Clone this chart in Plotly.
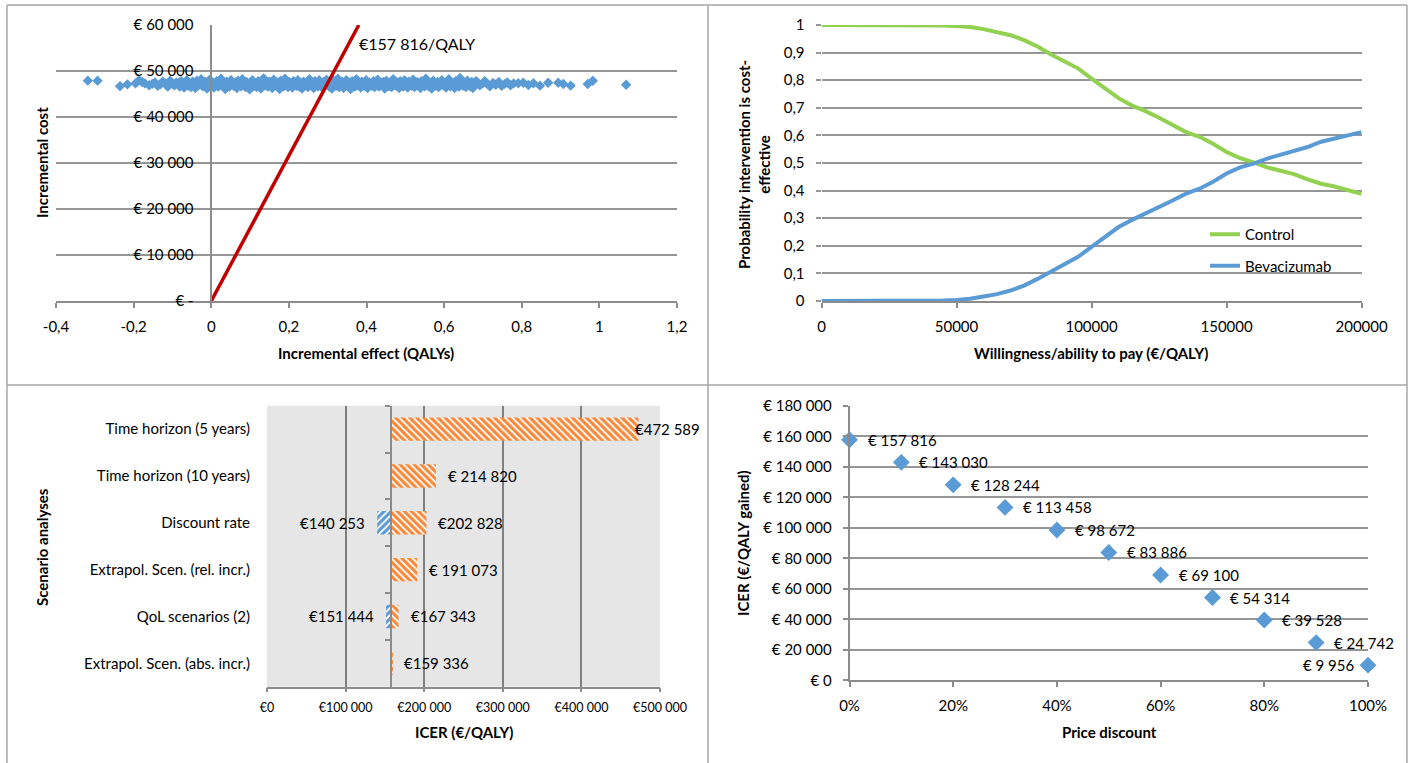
import plotly.graph_objects as go

W, H = 1414, 763
FONT = "Lato"
GRID = "#969696"
AXIS = "#8c8c8c"
BLUE = "#5B9BD5"
GREEN = "#92D050"
ORANGE = "#F7893B"
RED = "#C00000"

# ---------------- data ----------------
ICER_BASE = 157816

PSA_EFFECT_LEFT = [-0.318, -0.293, -0.235, -0.216, -0.195, -0.186, -0.178, -0.171, -0.160, -0.152,
                   -0.145, -0.138, -0.131, -0.125, -0.118, -0.112, -0.106, -0.100, -0.095, -0.090]
PSA_COST_LEFT = [47900, 47900, 46700, 47100, 47300, 48000, 47600, 47300, 46900, 47200,
                 47500, 46800, 47100, 47700, 47300, 46600, 47900, 47200, 46900, 47500]

PSA_EFFECT_MID = [
    -0.085, -0.081, -0.078, -0.074, -0.070, -0.066, -0.063, -0.059, -0.055, -0.052,
    -0.048, -0.044, -0.041, -0.037, -0.033, -0.030, -0.026, -0.022, -0.019, -0.015,
    -0.011, -0.008, -0.004, 0.000, 0.003, 0.007, 0.011, 0.014, 0.018, 0.022,
    0.025, 0.029, 0.033, 0.036, 0.040, 0.044, 0.047, 0.051, 0.055, 0.058,
    0.062, 0.066, 0.069, 0.073, 0.077, 0.080, 0.084, 0.088, 0.091, 0.095,
    0.099, 0.102, 0.106, 0.110, 0.113, 0.117, 0.121, 0.124, 0.128, 0.132,
    0.135, 0.139, 0.143, 0.146, 0.150, 0.154, 0.157, 0.161, 0.165, 0.168,
    0.172, 0.176, 0.179, 0.183, 0.187, 0.190, 0.194, 0.198, 0.201, 0.205,
    0.209, 0.212, 0.216, 0.220, 0.223, 0.227, 0.231, 0.234, 0.238, 0.242,
    0.245, 0.249, 0.253, 0.256, 0.260, 0.264, 0.267, 0.271, 0.275, 0.278,
    0.282, 0.286, 0.289, 0.293, 0.297, 0.300, 0.304, 0.308, 0.311, 0.315,
    0.319, 0.322, 0.326, 0.330, 0.333, 0.337, 0.341, 0.344, 0.348, 0.352,
    0.355, 0.359, 0.363, 0.366, 0.370, 0.374, 0.377, 0.381, 0.385, 0.388,
    0.392, 0.396, 0.399, 0.403, 0.407, 0.410, 0.414, 0.418, 0.421, 0.425,
    0.429, 0.432, 0.436, 0.440, 0.443, 0.447, 0.451, 0.454, 0.458, 0.462,
    0.465, 0.469, 0.473, 0.476, 0.480, 0.484, 0.487, 0.491, 0.495, 0.498,
    0.502, 0.506, 0.509, 0.513, 0.517, 0.520, 0.524, 0.528, 0.531, 0.535,
    0.539, 0.542, 0.546, 0.550, 0.553, 0.557, 0.561, 0.564, 0.568, 0.572,
    0.575, 0.579, 0.583, 0.586, 0.590, 0.594, 0.597, 0.601, 0.605, 0.608,
    0.612, 0.616, 0.619, 0.623, 0.627, 0.630, 0.634, 0.638, 0.641, 0.645,
    0.649, 0.652, 0.656, 0.660, 0.663, 0.667, 0.671, 0.674, 0.678, 0.682,
]
PSA_COST_MID = [
    47300, 46600, 47800, 47000, 46400, 47500, 48000, 46800, 47200, 46500,
    47700, 47100, 46300, 47900, 46900, 47400, 48200, 46700, 47000, 47600,
    46200, 47300, 48100, 46800, 47500, 46400, 47000, 47800, 46600, 47200,
    48300, 46900, 47400, 46100, 47700, 47100, 46600, 48000, 47300, 46800,
    47500, 46300, 47900, 47000, 46700, 48200, 47200, 46500, 47600, 47000,
    46000, 47400, 48000, 46800, 47300, 46500, 47800, 47100, 46200, 47600,
    48400, 46900, 47200, 46600, 47700, 47000, 46300, 48100, 47400, 46800,
    47500, 46100, 47900, 47200, 46700, 48300, 47000, 46500, 47600, 47300,
    46400, 47800, 47100, 46800, 48000, 46600, 47400, 46200, 47700, 47000,
    47300, 46500, 48200, 46900, 47500, 46300, 47800, 47100, 46700, 48000,
    47200, 46400, 47600, 46900, 48100, 47000, 46600, 47400, 46200, 47900,
    47100, 46800, 48300, 46500, 47300, 47700, 46300, 47000, 48000, 46700,
    47500, 46100, 47800, 47200, 46600, 48200, 46900, 47400, 46400, 47700,
    47000, 46700, 48000, 46300, 47500, 47100, 46800, 47800, 46500, 47300,
    48100, 46600, 47200, 46900, 47600, 46200, 47900, 47000, 46700, 47400,
    46500, 48200, 47100, 46800, 47500, 46300, 47800, 47200, 46600, 48000,
    47000, 46400, 47700, 47300, 46800, 48100, 46500, 47200, 47600, 46900,
    46300, 47800, 47100, 46700, 48300, 47000, 46600, 47400, 46200, 47900,
    47300, 46800, 47600, 46500, 47100, 48000, 46900, 47400, 46400, 47700,
    48200, 46700, 47200, 47000, 46300, 47800, 47500, 46600, 48500, 47100,
    46800, 47400, 46500, 47900, 47200, 46700, 47600, 46300, 47100, 47800,
]

PSA_EFFECT_RIGHT = [0.686, 0.692, 0.699, 0.705, 0.712, 0.718, 0.726, 0.733, 0.741, 0.748,
                    0.756, 0.763, 0.771, 0.779, 0.791, 0.804, 0.817, 0.830, 0.847, 0.868,
                    0.894, 0.907, 0.926, 0.970, 0.983, 1.069]
PSA_COST_RIGHT = [47500, 46900, 47300, 47800, 47100, 46700, 47400, 47000, 47600, 46800,
                  47200, 47500, 46900, 47300, 47330, 47460, 46960, 47330, 46810, 47460,
                  47460, 47170, 46810, 47170, 47890, 47020]

CE_X_TICKS = [-0.4, -0.2, 0, 0.2, 0.4, 0.6, 0.8, 1.0, 1.2]
CE_X_LABELS = ["-0,4", "-0,2", "0", "0,2", "0,4", "0,6", "0,8", "1", "1,2"]
CE_Y_TICKS = [0, 10000, 20000, 30000, 40000, 50000, 60000]
CE_Y_LABELS = ["€ -", "€ 10 000", "€ 20 000", "€ 30 000", "€ 40 000", "€ 50 000", "€ 60 000"]
ICER_LINE_LABEL = "€157 816/QALY"

WTP = [0, 5000, 10000, 15000, 20000, 25000, 30000, 35000, 40000, 45000,
       50000, 55000, 60000, 65000, 70000, 75000, 80000, 85000, 90000, 95000,
       100000, 105000, 110000, 115000, 120000, 125000, 130000, 135000, 140000, 145000,
       150000, 155000, 160000, 165000, 170000, 175000, 180000, 185000, 190000, 195000, 200000]
P_CONTROL = [1.000, 1.000, 1.000, 1.000, 1.000, 1.000, 1.000, 0.999, 0.999, 0.998,
             0.996, 0.993, 0.985, 0.975, 0.963, 0.945, 0.922, 0.893, 0.866, 0.843,
             0.806, 0.770, 0.735, 0.708, 0.688, 0.664, 0.637, 0.612, 0.595, 0.570,
             0.540, 0.518, 0.502, 0.484, 0.472, 0.460, 0.441, 0.425, 0.415, 0.402, 0.388]
P_BEVA = [0.000, 0.000, 0.000, 0.000, 0.000, 0.000, 0.000, 0.001, 0.001, 0.002,
          0.004, 0.008, 0.016, 0.025, 0.038, 0.056, 0.080, 0.108, 0.135, 0.160,
          0.196, 0.232, 0.268, 0.294, 0.316, 0.338, 0.364, 0.389, 0.407, 0.432,
          0.462, 0.484, 0.498, 0.516, 0.530, 0.542, 0.558, 0.577, 0.588, 0.600, 0.612]
WTP_TICKS = [0, 50000, 100000, 150000, 200000]
WTP_LABELS = ["0", "50000", "100000", "150000", "200000"]
PROB_TICKS = [0, 0.1, 0.2, 0.3, 0.4, 0.5, 0.6, 0.7, 0.8, 0.9, 1.0]
PROB_LABELS = ["0", "0,1", "0,2", "0,3", "0,4", "0,5", "0,6", "0,7", "0,8", "0,9", "1"]

SCENARIOS = ["Time horizon (5 years)", "Time horizon (10 years)", "Discount rate",
             "Extrapol. Scen. (rel. incr.)", "QoL scenarios (2)", "Extrapol. Scen. (abs. incr.)"]
SCEN_HIGH = [472589, 214820, 202828, 191073, 167343, 159336]
SCEN_HIGH_LABELS = ["€472 589", "€ 214 820", "€202 828", "€ 191 073", "€167 343", "€159 336"]
SCEN_LOW = [None, None, 140253, None, 151444, None]
SCEN_LOW_LABELS = [None, None, "€140 253", None, "€151 444", None]
ICER_TICKS = [0, 100000, 200000, 300000, 400000, 500000]
ICER_LABELS = ["€0", "€100 000", "€200 000", "€300 000", "€400 000", "€500 000"]

DISCOUNT = [0.0, 0.1, 0.2, 0.3, 0.4, 0.5, 0.6, 0.7, 0.8, 0.9, 1.0]
DISCOUNT_ICER = [157816, 143030, 128244, 113458, 98672, 83886, 69100, 54314, 39528, 24742, 9956]
DISC_TICKS = [0, 0.2, 0.4, 0.6, 0.8, 1.0]
DISC_LABELS = ["0%", "20%", "40%", "60%", "80%", "100%"]
DICER_TICKS = [0, 20000, 40000, 60000, 80000, 100000, 120000, 140000, 160000, 180000]
DICER_LABELS = ["€ 0", "€ 20 000", "€ 40 000", "€ 60 000", "€ 80 000", "€ 100 000",
                "€ 120 000", "€ 140 000", "€ 160 000", "€ 180 000"]

# ---------------- helpers ----------------
def dx(a, b):
    return [a / W, b / W]


def dy(top, bottom):
    return [1 - bottom / H, 1 - top / H]


def euro(v):
    return "€ " + f"{v:,}".replace(",", " ")


TICKFONT = dict(family=FONT, size=15, color="black")

fig = go.Figure()

# ---- panel 1: CE plane ----
psa_x = PSA_EFFECT_LEFT + PSA_EFFECT_MID + PSA_EFFECT_RIGHT
psa_y = PSA_COST_LEFT + PSA_COST_MID + PSA_COST_RIGHT
fig.add_trace(go.Scatter(x=psa_x, y=psa_y, mode="markers", xaxis="x", yaxis="y",
                         marker=dict(symbol="diamond", size=8, color=BLUE, line=dict(width=0)),
                         showlegend=False, hoverinfo="skip"))
ymax = CE_Y_TICKS[-1]
fig.add_trace(go.Scatter(x=[0, ymax / ICER_BASE], y=[0, ymax], mode="lines", xaxis="x", yaxis="y",
                         line=dict(color=RED, width=3.5), showlegend=False, hoverinfo="skip"))

# ---- panel 2: CEAC ----
fig.add_trace(go.Scatter(x=WTP, y=P_CONTROL, mode="lines", name="Control", xaxis="x2", yaxis="y2",
                         line=dict(color=GREEN, width=4), legendgroup="a"))
fig.add_trace(go.Scatter(x=WTP, y=P_BEVA, mode="lines", name="Bevacizumab", xaxis="x2", yaxis="y2",
                         line=dict(color=BLUE, width=4), legendgroup="b"))

# ---- panel 3: tornado ----
fig.add_trace(go.Bar(y=SCENARIOS, x=[v - ICER_BASE for v in SCEN_HIGH], base=ICER_BASE,
                     orientation="h", xaxis="x3", yaxis="y3", width=0.5,
                     marker=dict(color=ORANGE, line=dict(width=0),
                                 pattern=dict(shape="\\", fillmode="replace", bgcolor=ORANGE,
                                              fgcolor="white", size=5, solidity=0.35)),
                     showlegend=False, hoverinfo="skip"))
low_y = [s for s, v in zip(SCENARIOS, SCEN_LOW) if v is not None]
low_x = [v - ICER_BASE for v in SCEN_LOW if v is not None]
fig.add_trace(go.Bar(y=low_y, x=low_x, base=ICER_BASE,
                     orientation="h", xaxis="x3", yaxis="y3", width=0.5,
                     marker=dict(color=BLUE, line=dict(width=0),
                                 pattern=dict(shape="/", fillmode="replace", bgcolor=BLUE,
                                              fgcolor="white", size=5, solidity=0.35)),
                     showlegend=False, hoverinfo="skip"))
fig.add_trace(go.Scatter(y=SCENARIOS, x=[ICER_BASE] * len(SCENARIOS), mode="markers",
                         xaxis="x3", yaxis="y5", marker=dict(opacity=0),
                         showlegend=False, hoverinfo="skip"))

# ---- panel 4: price discount ----
fig.add_trace(go.Scatter(x=DISCOUNT, y=DISCOUNT_ICER, mode="markers", xaxis="x4", yaxis="y4",
                         marker=dict(symbol="diamond", size=13, color=BLUE),
                         cliponaxis=False, showlegend=False, hoverinfo="skip"))

# ---------------- axes ----------------
x1d = dx(56, 677)
y_pos = x1d[0] + (0 - CE_X_TICKS[0]) / (CE_X_TICKS[-1] - CE_X_TICKS[0]) * (x1d[1] - x1d[0])
x3d = dx(267, 660)
base_pos = x3d[0] + ICER_BASE / ICER_TICKS[-1] * (x3d[1] - x3d[0])

common_x = dict(showgrid=False, zeroline=False, showline=True, linecolor=AXIS, linewidth=1.5,
                ticks="outside", ticklen=5, tickcolor=AXIS, tickwidth=1.5, tickfont=TICKFONT,
                ticklabelstandoff=6, automargin=False)

fig.update_layout(
    template="none",
    width=W, height=H, margin=dict(l=0, r=0, t=0, b=0, pad=0),
    paper_bgcolor="white", plot_bgcolor="rgba(0,0,0,0)",
    font=dict(family=FONT, color="black"),
    barmode="overlay",
    xaxis=dict(domain=x1d, anchor="y", range=[CE_X_TICKS[0], CE_X_TICKS[-1]],
               tickvals=CE_X_TICKS, ticktext=CE_X_LABELS, **common_x),
    yaxis=dict(domain=dy(25, 301), anchor="free", position=y_pos,
               range=[CE_Y_TICKS[0], CE_Y_TICKS[-1]], tickvals=CE_Y_TICKS, ticktext=CE_Y_LABELS,
               showgrid=True, gridcolor=GRID, gridwidth=1.5, zeroline=False,
               showline=True, linecolor=AXIS, linewidth=1.5, ticks="",
               tickfont=TICKFONT, ticklabelstandoff=14, automargin=False),
    xaxis2=dict(domain=dx(821.5, 1361.6), anchor="y2", range=[WTP_TICKS[0], WTP_TICKS[-1]],
                tickvals=WTP_TICKS, ticktext=WTP_LABELS, **common_x),
    yaxis2=dict(domain=dy(25, 301), anchor="x2", range=[0, 1],
                tickvals=PROB_TICKS, ticktext=PROB_LABELS,
                showgrid=True, gridcolor=GRID, gridwidth=1.5, zeroline=False, showline=False,
                ticks="outside", ticklen=5, tickcolor=GRID, tickwidth=1.5,
                tickfont=TICKFONT, ticklabelstandoff=8, automargin=False),
    xaxis3=dict(domain=x3d, anchor="y3", range=[ICER_TICKS[0], ICER_TICKS[-1]],
                tickvals=ICER_TICKS, ticktext=ICER_LABELS,
                showgrid=True, gridcolor="#7f7f7f", gridwidth=1.5, zeroline=False,
                showline=True, linecolor=AXIS, linewidth=1.5,
                ticks="outside", ticklen=4, tickcolor=AXIS, tickwidth=1.5,
                tickfont=dict(family=FONT, size=12.5, color="black"), ticklabelstandoff=5,
                automargin=False),
    yaxis3=dict(domain=dy(405.7, 686.7), anchor="x3", type="category",
                categoryorder="array", categoryarray=SCENARIOS,
                range=[len(SCENARIOS) - 0.5, -0.5], showgrid=False, zeroline=False,
                showline=False, ticks="", tickfont=TICKFONT, ticklabelstandoff=16,
                automargin=False),
    yaxis5=dict(domain=dy(405.7, 686.7), overlaying="y3", anchor="free", position=base_pos,
                type="category", categoryorder="array", categoryarray=SCENARIOS,
                range=[len(SCENARIOS) - 0.5, -0.5], showgrid=False, zeroline=False,
                showline=True, linecolor=AXIS, linewidth=1.5, ticks="outside", ticklen=5,
                tickcolor=AXIS, tickwidth=1.5, tickson="boundaries", showticklabels=False,
                automargin=False),
    xaxis4=dict(domain=dx(849.5, 1368), anchor="y4", range=[DISC_TICKS[0], DISC_TICKS[-1]],
                tickvals=DISC_TICKS, ticktext=DISC_LABELS, **common_x),
    yaxis4=dict(domain=dy(406, 680.3), anchor="x4", range=[DICER_TICKS[0], DICER_TICKS[-1]],
                tickvals=DICER_TICKS, ticktext=DICER_LABELS,
                showgrid=True, gridcolor=GRID, gridwidth=1.5, zeroline=False,
                showline=True, linecolor=AXIS, linewidth=1.5,
                ticks="outside", ticklen=5, tickcolor=AXIS, tickwidth=1.5,
                tickfont=TICKFONT, ticklabelstandoff=8, automargin=False),
    legend=dict(x=1205 / W, y=1 - 218 / H, xanchor="left", yanchor="top",
                bgcolor="rgba(0,0,0,0)", borderwidth=0, traceorder="grouped",
                tracegroupgap=9, font=dict(family=FONT, size=15, color="black")),
)

# plot area background of tornado
fig.add_shape(type="rect", xref="x3 domain", yref="y3 domain", x0=0, x1=1, y0=0, y1=1,
              fillcolor="#E6E6E6", line=dict(width=0), layer="below")

# panel borders
BORDER = dict(color="#a6a6a6", width=1.5)
fig.add_shape(type="line", xref="paper", yref="paper", x0=7 / W, x1=1407 / W, y0=1 - 5 / H, y1=1 - 5 / H, line=BORDER)
fig.add_shape(type="line", xref="paper", yref="paper", x0=7 / W, x1=7 / W, y0=0, y1=1 - 5 / H, line=BORDER)
fig.add_shape(type="line", xref="paper", yref="paper", x0=1407 / W, x1=1407 / W, y0=0, y1=1 - 5 / H, line=BORDER)
fig.add_shape(type="line", xref="paper", yref="paper", x0=708 / W, x1=708 / W, y0=0, y1=1 - 5 / H, line=BORDER)
fig.add_shape(type="line", xref="paper", yref="paper", x0=7 / W, x1=1407 / W, y0=1 - 385 / H, y1=1 - 385 / H, line=BORDER)

ann = []
# ICER line label
ann.append(dict(x=0.376, y=55900, xref="x", yref="y", text=ICER_LINE_LABEL, showarrow=False,
                xanchor="left", yanchor="middle", font=dict(family=FONT, size=16, color="black")))
# tornado labels
hmax = max(SCEN_HIGH)
for s, v, t in zip(SCENARIOS, SCEN_HIGH, SCEN_HIGH_LABELS):
    ann.append(dict(x=v, y=s, xref="x3", yref="y3", text=t, showarrow=False,
                    xanchor="left", yanchor="middle", xshift=(-5 if v == hmax else 10), font=TICKFONT))
for s, v, t in zip(SCENARIOS, SCEN_LOW, SCEN_LOW_LABELS):
    if v is not None:
        ann.append(dict(x=v, y=s, xref="x3", yref="y3", text=t, showarrow=False,
                        xanchor="right", yanchor="middle", xshift=-10, font=TICKFONT))
# price discount labels
for i, (d, v) in enumerate(zip(DISCOUNT, DISCOUNT_ICER)):
    last = i == len(DISCOUNT) - 1
    ann.append(dict(x=d, y=v, xref="x4", yref="y4", text=euro(v), showarrow=False,
                    xanchor=("right" if last else "left"), yanchor="middle",
                    xshift=(-12 if last else 16), font=TICKFONT))
# axis titles
titles = [
    ("Incremental effect (QALYs)", 366, 353, 0),
    ("Incremental cost", 42, 163, -90),
    ("Willingness/ability to pay (€/QALY)", 1091, 353, 0),
    ("Probability intervention is cost-<br>effective", 754, 165, -90),
    ("ICER (€/QALY)", 464, 732, 0),
    ("Scenario analyses", 42, 547, -90),
    ("Price discount", 1109, 732, 0),
    ("ICER (€/QALY gained)", 743, 543, -90),
]
for t, px, py, ang in titles:
    ann.append(dict(x=px / W, y=1 - py / H, xref="paper", yref="paper", text="<b>" + t + "</b>",
                    showarrow=False, xanchor="center", yanchor="middle", textangle=ang,
                    font=dict(family=FONT, size=15, color="black")))
fig.update_layout(annotations=ann)

fig.write_html(
    "out.html",
    config=dict(displayModeBar=False),
    post_script="document.body.style.margin='0';document.body.style.overflow='hidden';",
)
